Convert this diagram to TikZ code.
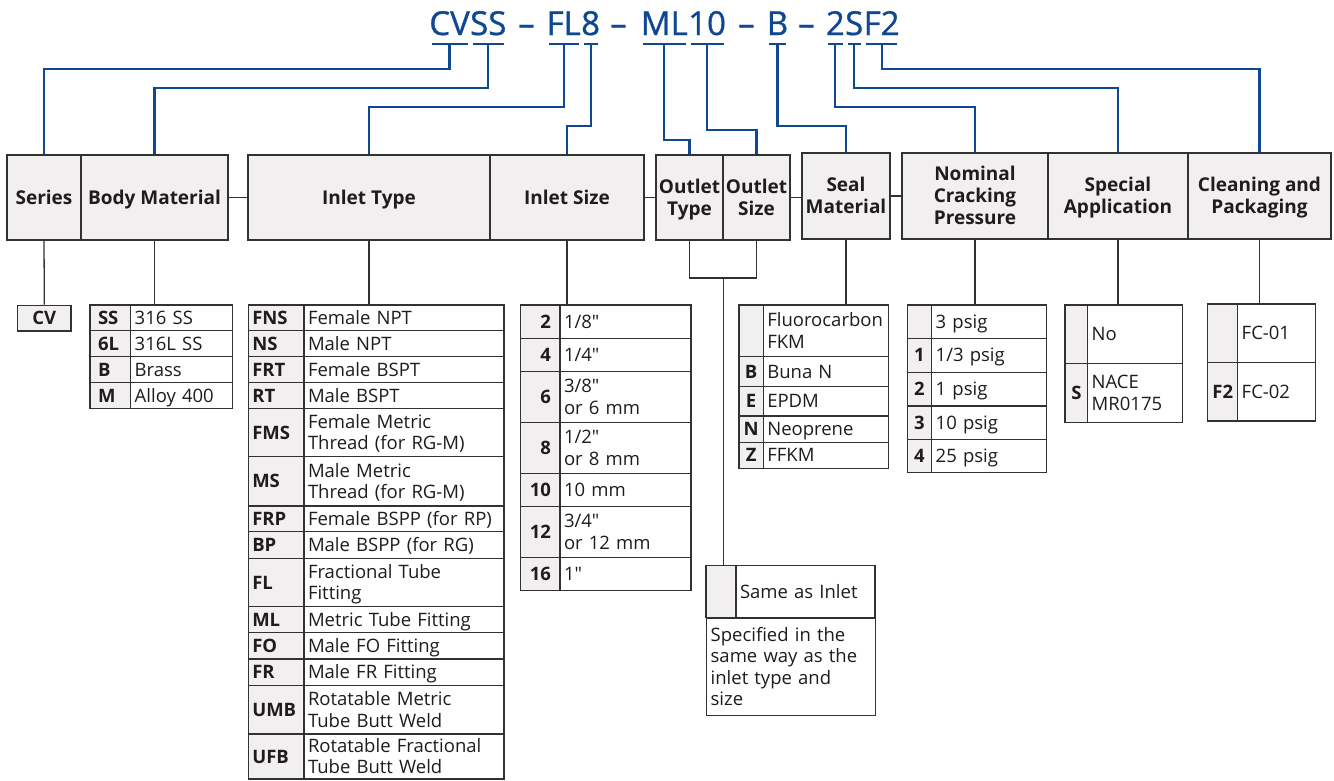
\documentclass[tikz,border=0pt]{standalone}
\usepackage{fontspec}
\setmainfont{Open Sans}[Ligatures=TeXOff]
\newfontfamily\partfont{Open Sans}[FakeBold=1]
\usetikzlibrary{positioning}

\definecolor{partblue}{RGB}{14,72,146}
\definecolor{boxgray}{RGB}{241,239,240}
\definecolor{edgegray}{RGB}{50,50,50}
\definecolor{inkgray}{RGB}{30,28,29}

\hyphenpenalty=10000
\exhyphenpenalty=10000
\hbadness=10000
\hfuzz=60pt

% struts that keep cell texts centred on their capitals
\newcommand{\cellup}{\leavevmode\vrule height 18pt depth 0pt width 0pt}
\newcommand{\celldown}{\vrule height 0pt depth 5pt width 0pt}

\tikzstyle{partlbl} = [inner sep=0pt, text=partblue, font=\partfont\fontsize{33}{33}\selectfont]
\tikzstyle{bluelink} = [draw=partblue, line width=2.2pt]
\tikzstyle{graywire} = [draw=edgegray, line width=1.3pt]
\tikzstyle{headbox} = [draw=edgegray, line width=1.3pt, fill=boxgray, align=center,
    inner sep=0pt, text=inkgray, font=\bfseries\fontsize{19}{22}\selectfont]
\tikzstyle{codecell} = [draw=edgegray, line width=1.3pt, fill=boxgray, inner xsep=4pt,
    inner ysep=0pt, text=inkgray, font=\bfseries\fontsize{18.5}{21.5}\selectfont]
\tikzstyle{valcell} = [draw=edgegray, line width=1.3pt, fill=white, inner xsep=4pt,
    inner ysep=0pt, align=left, text=inkgray, font=\fontsize{18.5}{21.5}\selectfont]

% header box: name, left, right, top, bottom, label
\newcommand{\headbox}[6]{%
  \pgfmathsetmacro{\boxw}{#3-#2}\pgfmathsetmacro{\boxh}{#5-#4}
  \node[headbox, minimum width=\boxw pt, minimum height=\boxh pt]
    (#1) at ({(#2+#3)/2},{(#4+#5)/2}) {\cellup#6\celldown};}

% option row: [code align] name, left, divider, right, top, bottom, code, value
\newcommand{\optrow}[9][left]{%
  \pgfmathsetmacro{\codew}{#4-#3}\pgfmathsetmacro{\valw}{#5-#4}
  \pgfmathsetmacro{\rowh}{#7-#6}
  \pgfmathsetmacro{\codetw}{#4-#3-8}\pgfmathsetmacro{\valtw}{#5-#4-8}
  \node[codecell, minimum width=\codew pt, minimum height=\rowh pt, text width=\codetw pt, align=#1]
    (#2c) at ({(#3+#4)/2},{(#6+#7)/2}) {\cellup#8\celldown};
  \node[valcell, minimum width=\valw pt, minimum height=\rowh pt, text width=\valtw pt]
    (#2v) at ({(#4+#5)/2},{(#6+#7)/2}) {\cellup#9\celldown};}

\begin{document}
\begin{tikzpicture}[x=1pt, y=-1pt]
\useasboundingbox (0,0) rectangle (1334,780);

% ordering code
\node[partlbl, anchor=base east] (tCV) at (470,35) {CV};
\node[partlbl, base right=0pt of tCV] (tSS) {SS};
\node[partlbl, anchor=base] (tD1) at (526.5,35) {–};
\node[partlbl, anchor=base east] (tFL) at (581,35) {FL};
\node[partlbl, base right=0pt of tFL] (t8) {8};
\node[partlbl, anchor=base] (tD2) at (618.5,35) {–};
\node[partlbl, anchor=base east] (tML) at (688,35) {ML};
\node[partlbl, base right=0pt of tML] (t10) {10};
\node[partlbl, anchor=base] (tD3) at (746.5,35) {–};
\node[partlbl, anchor=base] (tB) at (777.5,35) {B};
\node[partlbl, anchor=base] (tD4) at (806.5,35) {–};
\node[partlbl, anchor=base east] (t2) at (845,35) {2};
\node[partlbl, base right=0pt of t2] (tS) {S};
\node[partlbl, base right=0pt of tS] (tF2) {F2};

% headers
\headbox{hSeries}{7}{81}{155}{240}{Series}
\headbox{hBody}{81}{228}{155}{240}{Body Material}
\headbox{hInType}{248}{490}{155}{240}{Inlet Type}
\headbox{hInSize}{490}{644}{155}{240}{Inlet Size}
\headbox{hOutType}{656}{723}{155}{240}{Outlet\\Type}
\headbox{hOutSize}{723}{790}{155}{240}{Outlet\\Size}
\headbox{hSeal}{802}{890}{153}{239}{Seal\\Material}
\headbox{hPress}{902}{1048}{153}{239}{Nominal\\Cracking\\Pressure}
\headbox{hSpecial}{1048}{1188}{153}{239}{Special\\Application}
\headbox{hClean}{1188}{1331}{153}{239}{Cleaning and\\Packaging}

% blue leads from the code to the headers
\foreach \p in {tCV,tSS,tFL,t8,tML,t10,tB,t2,tS,tF2}
  \draw[bluelink] ([shift={(2.5pt,-9pt)}]\p.base west) -- ([shift={(-2.5pt,-9pt)}]\p.base east);
\foreach \p/\h/\y in {tCV/hSeries/69, tSS/hBody/88, tFL/hInType/107, t8/hInSize/126,
    tML/hOutType/140, t10/hOutSize/130, tB/hSeal/126, t2/hPress/107, tS/hSpecial/88, tF2/hClean/69}
  \draw[bluelink] ([yshift=-9pt]\p.base) |- (\h.north |- 0,\y) -- (\h.north);

% series
\node[codecell, minimum width=53.3pt, minimum height=25.7pt] (cvBox) at (44.35,318) {\cellup CV\celldown};

% body material
\optrow{bm1}{90}{130.7}{232.3}{305}{330.7}{\hspace*{4pt}SS}{316 SS}
\optrow{bm2}{90}{130.7}{232.3}{330.7}{356.7}{\hspace*{4pt}6L}{316L SS}
\optrow{bm3}{90}{130.7}{232.3}{356.7}{382.7}{\hspace*{4pt}B}{Brass}
\optrow{bm4}{90}{130.7}{232.3}{382.7}{408.3}{\hspace*{4pt}M}{Alloy 400}

% inlet type
\optrow{it1}{248.3}{304}{504}{305}{330.7}{FNS}{Female NPT}
\optrow{it2}{248.3}{304}{504}{330.7}{356.7}{NS}{Male NPT}
\optrow{it3}{248.3}{304}{504}{356.7}{382.7}{FRT}{Female BSPT}
\optrow{it4}{248.3}{304}{504}{382.7}{408.3}{RT}{Male BSPT}
\optrow{it5}{248.3}{304}{504}{408.3}{456.7}{FMS}{Female Metric\\Thread (for RG-M)}
\optrow{it6}{248.3}{304}{504}{456.7}{506}{MS}{Male Metric\\Thread (for RG-M)}
\optrow{it7}{248.3}{304}{504}{506}{531.7}{FRP}{Female BSPP (for RP)}
\optrow{it8}{248.3}{304}{504}{531.7}{558.3}{BP}{Male BSPP (for RG)}
\optrow{it9}{248.3}{304}{504}{558.3}{606.7}{FL}{Fractional Tube\\Fitting}
\optrow{it10}{248.3}{304}{504}{606.7}{632.7}{ML}{Metric Tube Fitting}
\optrow{it11}{248.3}{304}{504}{632.7}{659}{FO}{Male FO Fitting}
\optrow{it12}{248.3}{304}{504}{659}{685.7}{FR}{Male FR Fitting}
\optrow{it13}{248.3}{304}{504}{685.7}{734}{UMB}{Rotatable Metric\\Tube Butt Weld}
\optrow{it14}{248.3}{304}{504}{734}{779}{UFB}{Rotatable Fractional\\Tube Butt Weld}

% inlet size
\optrow[right]{is1}{520.7}{560}{691}{305}{338.3}{2\hspace*{5pt}}{1/8"}
\optrow[right]{is2}{520.7}{560}{691}{338.3}{371.7}{4\hspace*{5pt}}{1/4"}
\optrow[right]{is3}{520.7}{560}{691}{371.7}{422.7}{6\hspace*{5pt}}{3/8"\\or 6 mm}
\optrow[right]{is4}{520.7}{560}{691}{422.7}{473.3}{8\hspace*{5pt}}{1/2"\\or 8 mm}
\optrow[right]{is5}{520.7}{560}{691}{473.3}{506.7}{10\hspace*{5pt}}{10 mm}
\optrow[right]{is6}{520.7}{560}{691}{506.7}{557.7}{12\hspace*{5pt}}{3/4"\\or 12 mm}
\optrow[right]{is7}{520.7}{560}{691}{557.7}{590.7}{16\hspace*{5pt}}{1"}

% outlet
\optrow{same}{706}{736}{875}{565.7}{617.7}{}{Same as Inlet}
\node[valcell, anchor=north west, minimum width=169pt, text width=161pt, minimum height=97.3pt]
  (sameNote) at (706,617.7) {\cellup Specified in the\\same way as the\\inlet type and\\size\celldown};

% seal material
\optrow[center]{sm1}{739}{763.3}{888.3}{305}{356.7}{}{Fluorocarbon\\FKM}
\optrow[center]{sm2}{739}{763.3}{888.3}{356.7}{386.7}{B}{Buna N}
\optrow[center]{sm3}{739}{763.3}{888.3}{386.7}{416}{E}{EPDM}
\optrow[center]{sm4}{739}{763.3}{888.3}{416}{442.3}{N}{Neoprene}
\optrow[center]{sm5}{739}{763.3}{888.3}{442.3}{468.3}{Z}{FFKM}

% cracking pressure
\optrow[center]{np1}{907.3}{931.7}{1046.7}{305}{338.3}{}{3 psig}
\optrow[center]{np2}{907.3}{931.7}{1046.7}{338.3}{372.3}{1}{1/3 psig}
\optrow[center]{np3}{907.3}{931.7}{1046.7}{372.3}{406}{2}{1 psig}
\optrow[center]{np4}{907.3}{931.7}{1046.7}{406}{439.3}{3}{10 psig}
\optrow[center]{np5}{907.3}{931.7}{1046.7}{439.3}{472.7}{4}{25 psig}

% special application
\optrow[center]{sa1}{1065}{1087.7}{1182.7}{305}{363.3}{}{No}
\optrow[center]{sa2}{1065}{1087.7}{1182.7}{363.3}{422.3}{S}{NACE\\MR0175}

% cleaning and packaging
\optrow[center]{cp1}{1207.7}{1237.7}{1315.7}{304}{362.7}{}{FC-01}
\optrow[center]{cp2}{1207.7}{1237.7}{1315.7}{362.7}{421}{F2}{FC-02}

% gray connectors
\draw[graywire] (hBody.east) -- (hInType.west);
\draw[graywire] (hInSize.east) -- (hOutType.west);
\draw[graywire] (hOutSize.east) -- (hOutSize.east -| hSeal.west);
\draw[graywire] (hSeal.east) -- (hPress.west);
\draw[graywire] (hSeries.south) -- (cvBox.north);
\draw[graywire] (hBody.south) -- (hBody.south |- bm1v.north);
\draw[graywire] (hInType.south) -- (hInType.south |- it1v.north);
\draw[graywire] (hInSize.south) -- (hInSize.south |- is1v.north);
\draw[graywire] (hSeal.south) -- (hSeal.south |- sm1v.north);
\draw[graywire] (hPress.south) -- (hPress.south |- np1v.north);
\draw[graywire] (hSpecial.south) -- (hSpecial.south |- sa1v.north);
\draw[graywire] (hClean.south) -- (hClean.south |- cp1v.north);
\coordinate (outJoin) at (hOutType.south east |- 0,278);
\draw[graywire] (hOutType.south) |- (outJoin) -| (hOutSize.south);
\draw[graywire] (outJoin) -- (outJoin |- samev.north);
\end{tikzpicture}
\end{document}
